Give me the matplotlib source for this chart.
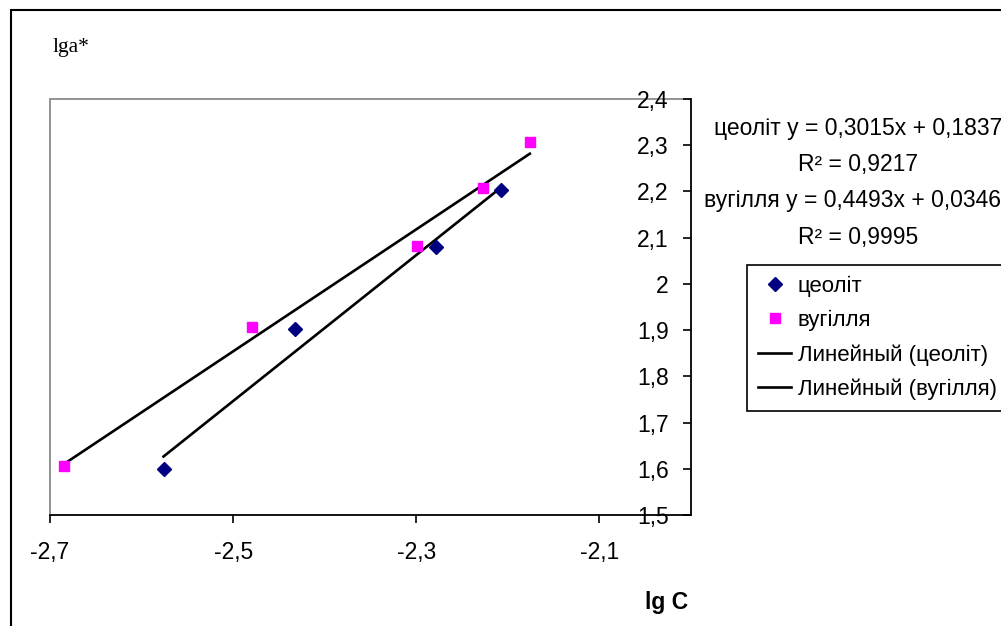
import numpy as np
import matplotlib
matplotlib.use("Agg")
import matplotlib.pyplot as plt
from matplotlib.patches import Rectangle
from matplotlib.ticker import FuncFormatter


# =========================
# DATA
# =========================
zeolite_x = [-2.576, -2.432, -2.278, -2.207]
zeolite_y = [1.600, 1.903, 2.080, 2.204]

coal_x = [-2.685, -2.479, -2.299, -2.227, -2.176]
coal_y = [1.605, 1.906, 2.083, 2.207, 2.306]

x_ticks = [-2.7, -2.5, -2.3, -2.1]
y_ticks = [1.5, 1.6, 1.7, 1.8, 1.9, 2.0, 2.1, 2.2, 2.3, 2.4]

series_names = ["цеоліт", "вугілля"]
trend_names = ["Линейный (цеоліт)", "Линейный (вугілля)"]
equations = ["цеоліт y = 0,3015x + 0,1837", "R² = 0,9217",
             "вугілля y = 0,4493x + 0,0346", "R² = 0,9995"]

W, H = 1001, 626
FS = 16.5

plt.rcParams['font.family'] = ['Liberation Sans', 'DejaVu Sans']


def fx(px):
    return px / W


def fy(py):
    return 1 - py / H


def comma(v, pos=None):
    return f"{v:g}".replace(".", ",")


# =========================
# FIGURE
# =========================
fig = plt.figure(figsize=(W / 100, H / 100), dpi=100)

# outer chart border
fig.patches.append(Rectangle((fx(11), -0.1), 1.2, fy(10) + 0.1,
                             transform=fig.transFigure, fill=False,
                             edgecolor="black", linewidth=1.5))

ax = fig.add_axes([fx(50), fy(515), fx(691 - 50), (515 - 99) / H])
ax.set_xlim(-2.7, -2.0)
ax.set_ylim(1.5, 2.4)

# plot area frame (gray), y axis sits on the right edge
ax.add_patch(Rectangle((0, 0), 1, 1, transform=ax.transAxes, fill=False,
                       edgecolor="#808080", linewidth=1.2, zorder=0.5,
                       clip_on=False))
ax.spines['top'].set_visible(False)
ax.spines['right'].set_visible(False)
ax.spines['left'].set_position(('data', -2.0))
ax.spines['left'].set_linewidth(1.2)
ax.spines['bottom'].set_linewidth(1.2)

ax.set_xticks(x_ticks)
ax.set_yticks(y_ticks)
ax.xaxis.set_major_formatter(FuncFormatter(comma))
ax.yaxis.set_major_formatter(FuncFormatter(comma))
ax.tick_params(axis='x', direction='out', length=6, width=1.2,
               labelsize=FS, pad=13)
ax.tick_params(axis='y', direction='out', length=6, width=1.2,
               labelsize=FS, pad=10)

# points
p1, = ax.plot(zeolite_x, zeolite_y, linestyle='none', marker='D',
              markersize=7, color='#000080', zorder=3)
p2, = ax.plot(coal_x, coal_y, linestyle='none', marker='s',
              markersize=7, color='#FF00FF', zorder=3)

# linear trend lines
handles = [p1, p2]
for xs, ys in [(zeolite_x, zeolite_y), (coal_x, coal_y)]:
    xs = np.array(xs)
    coef = np.polyfit(xs, np.array(ys), 1)
    ends = np.array([xs.min(), xs.max()])
    ln, = ax.plot(ends, np.polyval(coef, ends), color='black',
                  linewidth=1.9, zorder=2)
    handles.append(ln)

# axis titles
fig.text(fx(53), fy(52), "lga*", family='Liberation Serif', fontsize=15.5,
         va='baseline', ha='left')
fig.text(fx(667), fy(603), "lg C", fontsize=16.5, fontweight='bold',
         ha='center', va='center')

# trendline equations (cut by the right edge, as in the original)
for txt, px, py in zip(equations, [858, 858, 853, 858], [128, 165, 201, 238]):
    fig.text(fx(px), fy(py), txt, fontsize=FS, ha='center', va='center')

# legend
leg = fig.legend(handles, series_names + trend_names, loc='upper left',
                 bbox_to_anchor=(fx(747), fy(265)), borderaxespad=0,
                 frameon=True, fancybox=False, edgecolor='black',
                 framealpha=1, fontsize=16, borderpad=0.5,
                 handlelength=1.5, handletextpad=0.28, labelspacing=0.58)
leg.get_frame().set_linewidth(1.2)

fig.savefig("out.png", dpi=100)
